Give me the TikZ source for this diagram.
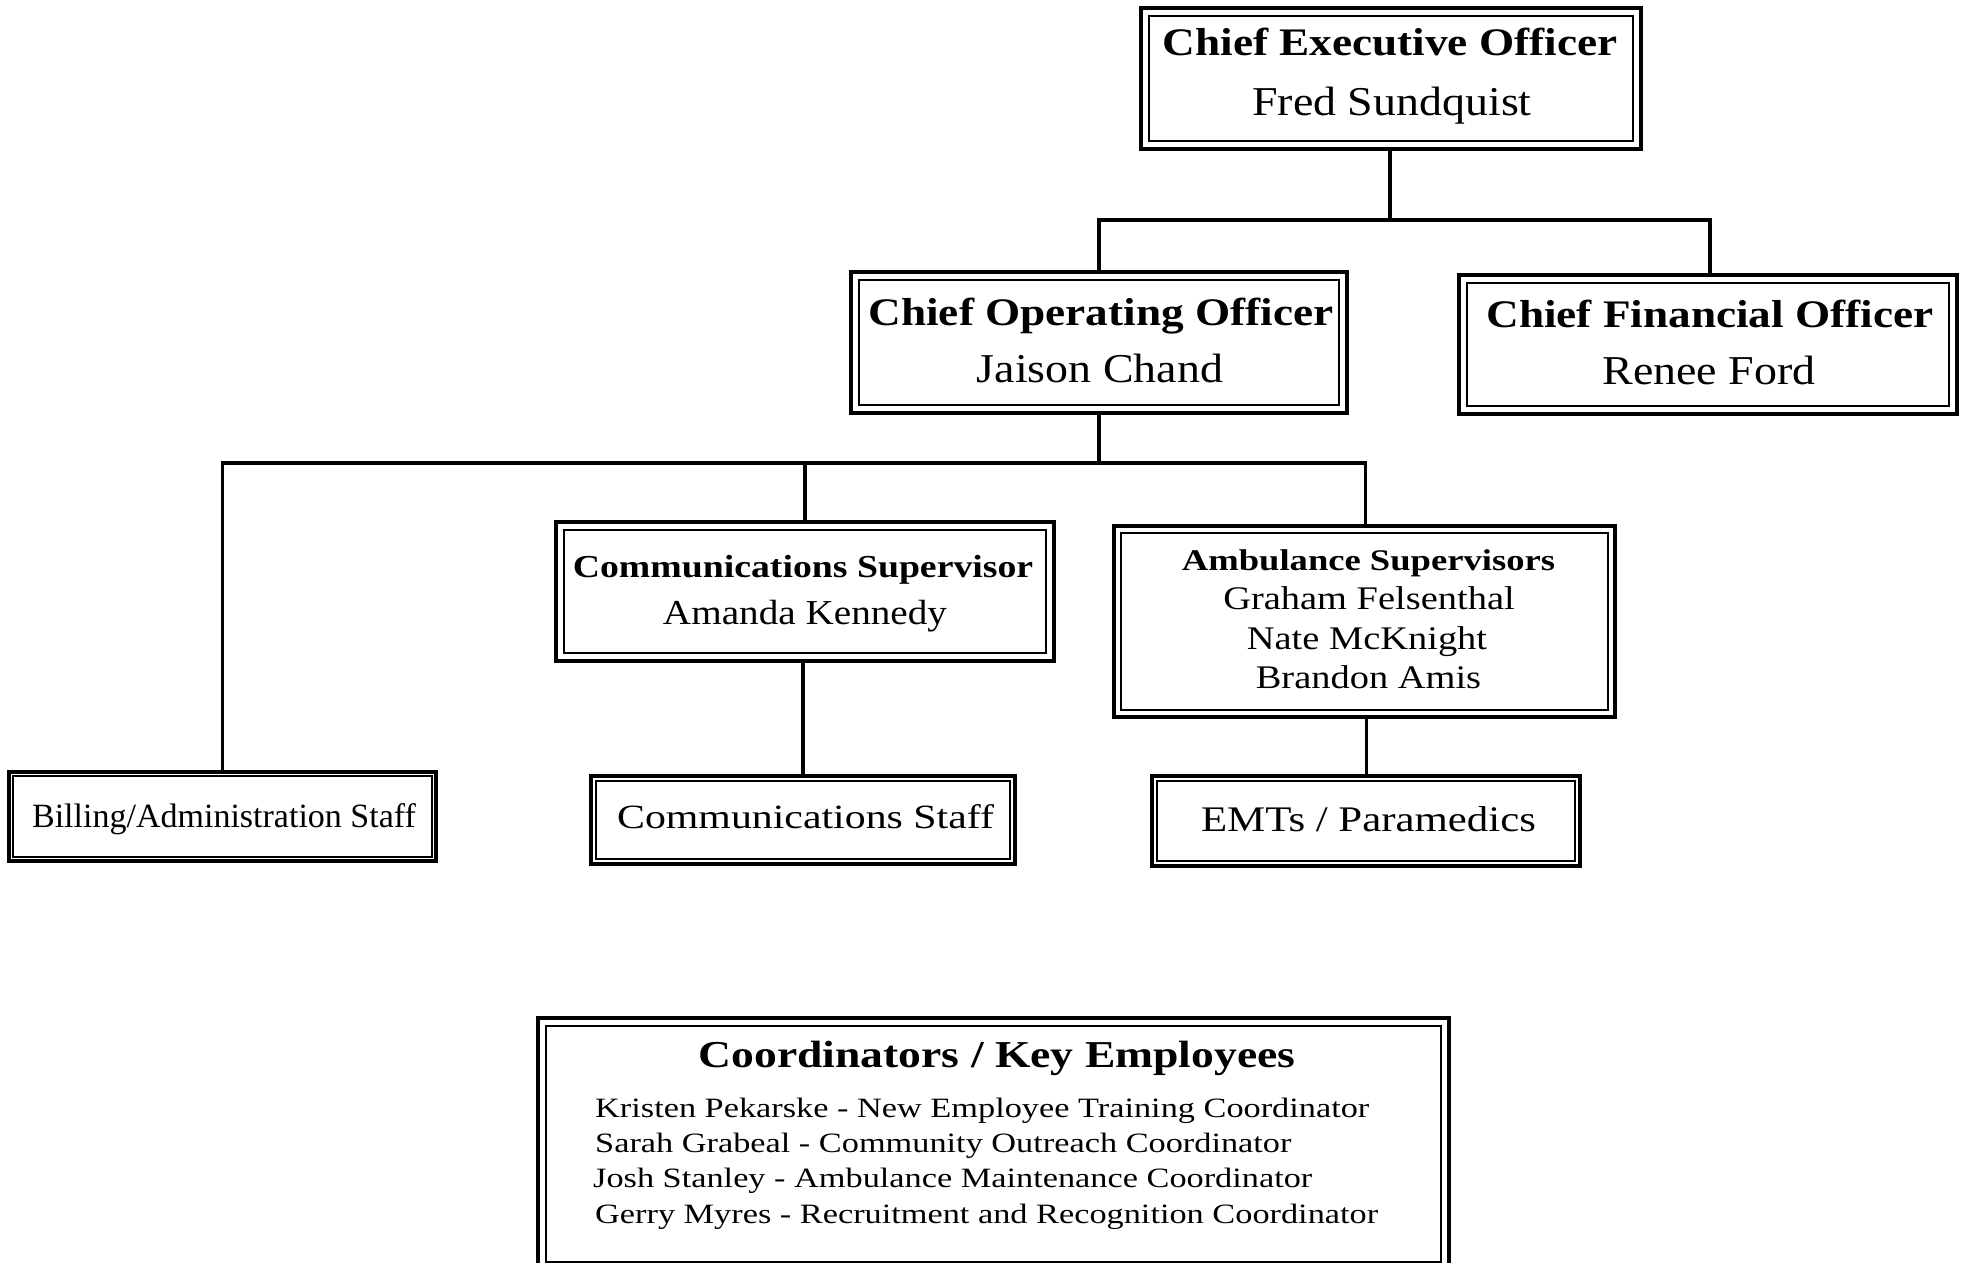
\documentclass[tikz,border=0pt]{standalone}
\usepackage{fontspec}
\setmainfont{Liberation Serif}
\newcommand\ft[2]{\fontsize{#1}{#1}\selectfont\addfontfeature{FakeStretch=#2}}
\newcommand\innerbox[2]{\draw[innerline] ([xshift=#2pt,yshift=-#2pt]#1.north west) rectangle ([xshift=-#2pt,yshift=#2pt]#1.south east);}
\begin{document}
\begin{tikzpicture}[x=1pt,y=-1pt]
\tikzset{
 outerbox/.style={draw, rectangle, line width=3.4pt, inner sep=0pt},
 innerline/.style={line width=1.7pt},
 conn/.style={line width=3.2pt},
 txt/.style={anchor=base, inner sep=0pt},
 txtl/.style={anchor=base west, inner sep=0pt},
 hd/.style={font=\bfseries\ft{39}{1.16}},
 nm/.style={font=\ft{41}{1.12}},
 amb/.style={font=\ft{33}{1.165}},
 crd/.style={font=\ft{28}{1.225}},
}
\useasboundingbox (0,0) rectangle (1963,1262);
\fill[white] (0,0) rectangle (1963,1262);

% boxes
\node[outerbox, minimum width=500pt, minimum height=141pt] (ceo) at (1391,78.5) {};
\node[outerbox, minimum width=496pt, minimum height=141pt] (coo) at (1099,342.5) {};
\node[outerbox, minimum width=498pt, minimum height=139pt] (cfo) at (1708,344.5) {};
\node[outerbox, minimum width=498pt, minimum height=139pt] (csup) at (805,591.5) {};
\node[outerbox, minimum width=501pt, minimum height=191pt] (asup) at (1364.5,621.5) {};
\node[outerbox, minimum width=427pt, minimum height=89pt] (bill) at (222.5,816.5) {};
\node[outerbox, minimum width=424pt, minimum height=88pt] (cstaff) at (803,820) {};
\node[outerbox, minimum width=428pt, minimum height=90pt] (emt) at (1366,821) {};
\node[outerbox, minimum width=911pt, minimum height=252pt] (coord) at (993.5,1144) {};

\innerbox{ceo}{10}
\innerbox{coo}{10}
\innerbox{cfo}{10}
\innerbox{csup}{10}
\innerbox{asup}{9}
\innerbox{bill}{6}
\innerbox{cstaff}{7}
\innerbox{emt}{7}
\innerbox{coord}{10}

% connectors
\coordinate (bus1) at (1390,220);
\coordinate (bus2) at (1099,463);
\draw[conn] ([xshift=-1pt]ceo.south) -- ([xshift=-1pt]ceo.south |- bus1) -| (coo.north);
\draw[conn] ([xshift=-1pt]ceo.south |- bus1) -| ([xshift=2pt]cfo.north);
\draw[conn] (coo.south) -- (coo.south |- bus2) -| (bill.north);
\draw[conn] (coo.south |- bus2) -| ([xshift=1pt]asup.north);
\draw[conn] (csup.north |- bus2) -- (csup.north);
\draw[conn] ([xshift=-2pt]csup.south) -- ([xshift=-2pt]csup.south |- cstaff.north);
\draw[conn] ([xshift=2pt]asup.south) -- ([xshift=2pt]asup.south |- emt.north);

% texts
\node[txt, hd] (ceo-t) at (1390,55) {Chief Executive Officer};
\node[txt, nm] (ceo-n) at (1392,115) {Fred Sundquist};
\node[txt, hd] (coo-t) at (1101,325) {Chief Operating Officer};
\node[txt, nm] (coo-n) at (1100,382) {Jaison Chand};
\node[txt, hd] (cfo-t) at (1710,327) {Chief Financial Officer};
\node[txt, nm] (cfo-n) at (1709,384) {Renee Ford};
\node[txt, font=\bfseries\ft{32}{1.18}] (csup-t) at (803,577) {Communications Supervisor};
\node[txt, font=\ft{35}{1.12}] (csup-n) at (805,624) {Amanda Kennedy};
\node[txt, font=\bfseries\ft{30}{1.22}] (asup-t) at (1368.5,570) {Ambulance Supervisors};
\node[txt, amb] (asup-n1) at (1369,609) {Graham Felsenthal};
\node[txt, amb] (asup-n2) at (1367,649) {Nate McKnight};
\node[txt, amb] (asup-n3) at (1368.5,688) {Brandon Amis};
\node[txt, font=\ft{34}{1.0}] (bill-t) at (224,827) {Billing/Administration Staff};
\node[txt, font=\ft{34}{1.23}] (cstaff-t) at (805.5,828) {Communications Staff};
\node[txt, font=\ft{36}{1.19}] (emt-t) at (1368.5,831) {EMTs / Paramedics};
\node[txt, font=\bfseries\ft{38}{1.2}] (coord-t) at (997,1067) {Coordinators / Key Employees};
\node[txtl, crd] (coord-1) at (595,1117) {Kristen Pekarske - New Employee Training Coordinator};
\node[txtl, crd] (coord-2) at (595,1152) {Sarah Grabeal - Community Outreach Coordinator};
\node[txtl, crd] (coord-3) at (593,1187) {Josh Stanley - Ambulance Maintenance Coordinator};
\node[txtl, crd] (coord-4) at (595,1223) {Gerry Myres - Recruitment and Recognition Coordinator};
\end{tikzpicture}
\end{document}
